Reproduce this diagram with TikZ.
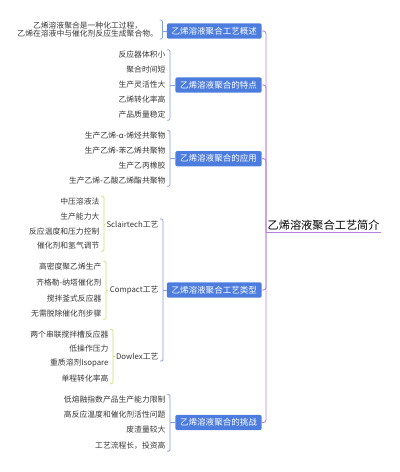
\documentclass[tikz,border=0pt]{standalone}
\usepackage{fontspec}
\setmainfont{Noto Sans CJK SC}
\usepackage{tikz}
\definecolor{boxblue}{RGB}{76,125,222}
\definecolor{brkblue}{RGB}{130,160,218}
\definecolor{brkgreen}{RGB}{205,222,110}
\definecolor{rootpurple}{RGB}{182,128,226}
\definecolor{leafgray}{RGB}{55,55,55}

\begin{document}
\begin{tikzpicture}[x=0.75pt, y=-0.75pt,
    cat/.style={anchor=east, fill=boxblue, text=white, rounded corners=1.5pt, inner xsep=3.6pt, inner ysep=0pt, minimum height=11.5pt, font=\fontsize{6.4}{7}\selectfont},
    leaf/.style={anchor=east, inner sep=1pt, text=leafgray, font=\fontsize{5.85}{6.3}\selectfont},
    main/.style={rootpurple, line width=0.7pt, rounded corners=2pt},
    brk/.style={brkblue, line width=0.6pt, rounded corners=1pt},
    subbrk/.style={brkgreen, line width=0.6pt, rounded corners=1pt}]
    \useasboundingbox (0,0) rectangle (400,472);
    % Root
    \node[anchor=south west, inner sep=1pt, font=\fontsize{8.4}{9}\selectfont] (root) at (266,232) {乙烯溶液聚合工艺简介};
    \draw[main] (root.south west) -- (root.south east);
    % Categories
    \node[cat] (c1) at (262,31) {乙烯溶液聚合工艺概述};
    \node[cat] (c2) at (262,85) {乙烯溶液聚合的特点};
    \node[cat] (c3) at (262,158.7) {乙烯溶液聚合的应用};
    \node[cat] (c4) at (262,290) {乙烯溶液聚合工艺类型};
    \node[cat] (c5) at (262,422.5) {乙烯溶液聚合的挑战};
    \draw[main] (root.south west) |- (c1.east);
    \draw[main] (root.south west) |- (c2.east);
    \draw[main] (root.south west) |- (c3.east);
    \draw[main] (root.south west) |- (c4.east);
    \draw[main] (root.south west) |- (c5.east);
    % Overview
    \node[leaf, align=center] (l1) at (159.5,29.5) {乙烯溶液聚合是一种化工过程，\\乙烯在溶液中与催化剂反应生成聚合物。};
    \draw[brk] (l1.north east) -- ++(3,0) coordinate (b1) |- (l1.south east);
    \draw[brk] (c1.west) -- (c1.west -| b1);
    % Features
    \node[leaf] (l21) at (167,55) {反应器体积小};
    \node[leaf] (l22) at (167,70) {聚合时间短};
    \node[leaf] (l23) at (167,84.5) {生产灵活性大};
    \node[leaf] (l24) at (167,99.5) {乙烯转化率高};
    \node[leaf] (l25) at (167,115) {产品质量稳定};
    \draw[brk] (l21.north east) -- ++(3,0) coordinate (b2) |- (l25.south east);
    \draw[brk] (c2.west) -- (c2.west -| b2);
    % Applications
    \node[leaf] (l31) at (167,135.5) {生产乙烯-α-烯烃共聚物};
    \node[leaf] (l32) at (167,151) {生产乙烯-苯乙烯共聚物};
    \node[leaf] (l33) at (167,166) {生产乙丙橡胶};
    \node[leaf] (l34) at (167,181) {生产乙烯-乙酸乙烯酯共聚物};
    \draw[brk] (l31.north east) -- ++(3,0) coordinate (b3) |- (l34.south east);
    \draw[brk] (c3.west) -- (c3.west -| b3);
    % Process types
    \node[leaf] (s1) at (160,224) {Sclairtech工艺};
    \node[leaf] (s2) at (160,290) {Compact工艺};
    \node[leaf] (s3) at (160,356) {Dowlex工艺};
    \draw[brk] (s1.north east) -- ++(3,0) coordinate (b4) |- (s3.south east);
    \draw[brk] (c4.west) -- (c4.west -| b4);
    \node[leaf] (l411) at (101,201.5) {中压溶液法};
    \node[leaf] (l412) at (101,216.5) {生产能力大};
    \node[leaf] (l413) at (101,232) {反应温度和压力控制};
    \node[leaf] (l414) at (101,246) {催化剂和氢气调节};
    \draw[subbrk] (l411.north east) -- ++(3,0) coordinate (b41) |- (l414.south east);
    \draw[subbrk] (s1.west) -- (s1.west -| b41);
    \node[leaf] (l421) at (103,266.5) {高密度聚乙烯生产};
    \node[leaf] (l422) at (103,282.5) {齐格勒-纳塔催化剂};
    \node[leaf] (l423) at (103,298.5) {搅拌釜式反应器};
    \node[leaf] (l424) at (103,314) {无需脱除催化剂步骤};
    \draw[subbrk] (l421.north east) -- ++(3,0) coordinate (b42) |- (l424.south east);
    \draw[subbrk] (s2.west) -- (s2.west -| b42);
    \node[leaf] (l431) at (110,334.5) {两个串联搅拌槽反应器};
    \node[leaf] (l432) at (110,349) {低操作压力};
    \node[leaf] (l433) at (110,363.5) {重质溶剂Isopare};
    \node[leaf] (l434) at (110,378.5) {单程转化率高};
    \draw[subbrk] (l431.north east) -- ++(3,0) coordinate (b43) |- (l434.south east);
    \draw[subbrk] (s3.west) -- (s3.west -| b43);
    % Challenges
    \node[leaf] (l51) at (167,399.5) {低熔融指数产品生产能力限制};
    \node[leaf] (l52) at (167,415) {高反应温度和催化剂活性问题};
    \node[leaf] (l53) at (167,430) {废渣量较大};
    \node[leaf] (l54) at (167,446) {工艺流程长，投资高};
    \draw[brk] (l51.north east) -- ++(3,0) coordinate (b5) |- (l54.south east);
    \draw[brk] (c5.west) -- (c5.west -| b5);
\end{tikzpicture}
\end{document}
